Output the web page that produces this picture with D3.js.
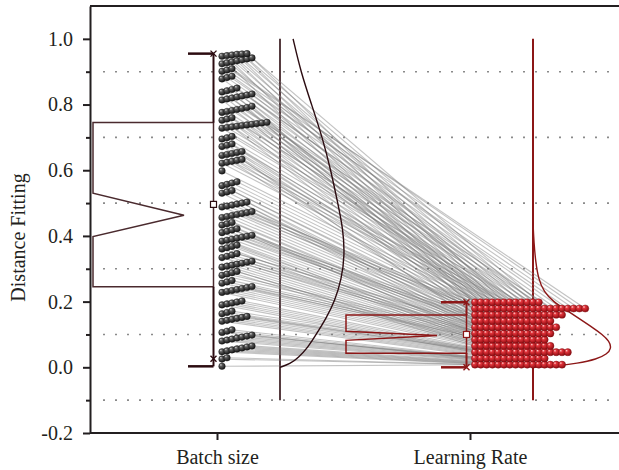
<!DOCTYPE html>
<html>
<head>
<meta charset="utf-8">
<script src="https://cdn.jsdelivr.net/npm/d3@7"></script>
<style>
  body { margin: 0; background: #fff; }
  text { font-family: "Liberation Serif", "Times New Roman", serif; fill: #231f20; }
</style>
</head>
<body>
<div id="vis"></div>
<script>
// Categories on the x axis
const categories = ['Batch size', 'Learning Rate']

// Distance fitting values, batch size
const batchValues = [
  0.003,
  0.025, 0.029,
  0.047, 0.050, 0.053, 0.056, 0.059, 0.062, 0.065,
  0.080, 0.083, 0.086, 0.089, 0.092, 0.095, 0.098,
  0.106, 0.110, 0.114,
  0.140, 0.143, 0.146, 0.149, 0.152, 0.155,
  0.163, 0.167, 0.171,
  0.190, 0.193, 0.196, 0.199, 0.202,
  0.228, 0.231, 0.234, 0.237, 0.240, 0.243, 0.246,
  0.256, 0.260, 0.264,
  0.280, 0.284, 0.288, 0.292,
  0.305, 0.308, 0.311, 0.314, 0.317, 0.320, 0.323,
  0.334, 0.338, 0.342, 0.346,
  0.360, 0.364, 0.368, 0.372,
  0.384, 0.387, 0.390, 0.393, 0.396, 0.399, 0.402,
  0.410, 0.414, 0.418, 0.422,
  0.433, 0.437, 0.441,
  0.456, 0.459, 0.462, 0.465, 0.468, 0.471, 0.474,
  0.488, 0.491, 0.494, 0.497, 0.500, 0.503,
  0.530, 0.534, 0.538,
  0.553, 0.557, 0.561, 0.565,
  0.598,
  0.621, 0.624, 0.627, 0.630, 0.633,
  0.645, 0.648, 0.651, 0.654, 0.657,
  0.672, 0.676, 0.680,
  0.695, 0.699, 0.703,
  0.728, 0.730, 0.732, 0.734, 0.736, 0.738, 0.740, 0.742, 0.744, 0.746,
  0.752, 0.756, 0.760,
  0.776, 0.779, 0.782, 0.785, 0.788, 0.791, 0.795,
  0.814, 0.817, 0.820, 0.823, 0.826, 0.829, 0.832,
  0.838, 0.842, 0.846, 0.850,
  0.878, 0.882, 0.886,
  0.901, 0.905, 0.909,
  0.924, 0.927, 0.930, 0.933, 0.936, 0.939, 0.942,
  0.947, 0.949, 0.951, 0.953, 0.954, 0.955
]

// Distance fitting values, learning rate (rows of dots)
const lrValues = [
  0.008, 0.008, 0.008, 0.008, 0.008, 0.008, 0.008, 0.008, 0.008, 0.008, 0.008, 0.008, 0.008, 0.008, 0.008, 0.008,
  0.027, 0.027, 0.027, 0.027, 0.027, 0.027, 0.027, 0.027, 0.027, 0.027, 0.027, 0.027, 0.027,
  0.046, 0.046, 0.046, 0.046, 0.046, 0.046, 0.046, 0.046, 0.046, 0.046, 0.046, 0.046, 0.046, 0.046, 0.046, 0.046, 0.046,
  0.065, 0.065, 0.065, 0.065, 0.065, 0.065, 0.065, 0.065, 0.065, 0.065, 0.065, 0.065, 0.065, 0.065,
  0.084, 0.084, 0.084, 0.084, 0.084, 0.084, 0.084, 0.084, 0.084, 0.084, 0.084, 0.084, 0.084,
  0.103, 0.103, 0.103, 0.103, 0.103, 0.103, 0.103, 0.103, 0.103, 0.103, 0.103, 0.103, 0.103, 0.103,
  0.122, 0.122, 0.122, 0.122, 0.122, 0.122, 0.122, 0.122, 0.122, 0.122, 0.122, 0.122, 0.122, 0.122, 0.122,
  0.141, 0.141, 0.141, 0.141, 0.141, 0.141, 0.141, 0.141, 0.141, 0.141, 0.141, 0.141, 0.141, 0.141,
  0.160, 0.160, 0.160, 0.160, 0.160, 0.160, 0.160, 0.160, 0.160, 0.160, 0.160, 0.160, 0.160, 0.160, 0.160, 0.160,
  0.179, 0.179, 0.179, 0.179, 0.179, 0.179, 0.179, 0.179, 0.179, 0.179, 0.179, 0.179, 0.179, 0.179, 0.179, 0.179, 0.179, 0.179, 0.179, 0.179,
  0.198, 0.198, 0.198, 0.198, 0.198, 0.198, 0.198, 0.198, 0.198, 0.198, 0.198, 0.198
]

// Box statistics: min, p1, q1, notch low, median, notch high, q3, mean, p99, max
const batchStats = [0.003, 0.026, 0.245, 0.398, 0.463, 0.530, 0.745, 0.496, 0.955, 0.955]
const lrStats = [0.000, 0.000, 0.043, 0.082, 0.097, 0.110, 0.159, 0.100, 0.198, 0.198]

// Distribution curves (value, relative density)
const batchCurveV = [0, 0.01, 0.03, 0.06, 0.1, 0.15, 0.2, 0.27, 0.34, 0.42, 0.5, 0.6, 0.7, 0.8, 0.9, 1.0]
const batchCurveD = [0, 0.13, 0.24, 0.36, 0.47, 0.60, 0.71, 0.80, 0.84, 0.82, 0.75, 0.66, 0.55, 0.41, 0.27, 0.17]
const lrCurveV = [0, 0.004, 0.012, 0.025, 0.04, 0.058, 0.08, 0.1, 0.12, 0.145, 0.17, 0.2, 0.23, 0.27, 0.32, 0.38, 0.44]
const lrCurveD = [0, 0.28, 0.58, 0.83, 0.96, 1.02, 0.99, 0.9, 0.78, 0.62, 0.46, 0.26, 0.14, 0.07, 0.035, 0.012, 0]

// Axis ticks
const yTicks = [-0.2, 0, 0.2, 0.4, 0.6, 0.8, 1.0]
const yMinorTicks = [-0.1, 0.1, 0.3, 0.5, 0.7, 0.9]

class PairedPlot {
  constructor() {
    this.width = 619
    this.height = 470
    this.plot = { left: 90, right: 619, top: 6, bottom: 433 }

    // offsets from the category position
    this.off = { box: -124, notch: -33, cap: -29, whisker: -3.5, dots: 5, spine: 63 }
    this.lineColors = ['#2b0b10', '#8c1717']
    this.boxColors = ['#4a2a2e', '#8c1717']

    this.initVis()
  }

  initVis() {
    let vis = this

    vis.svg = d3.select('#vis')
      .append('svg')
      .attr('width', vis.width)
      .attr('height', vis.height)

    vis.yScale = d3.scaleLinear()
      .domain([-0.2, 1.1])
      .range([vis.plot.bottom, vis.plot.top])

    vis.xScale = d3.scalePoint()
      .domain(categories)
      .range([vis.plot.left + 127, vis.plot.left + 380])

    // density -> pixel width of the curve
    vis.wScale = d3.scaleLinear().domain([0, 1]).range([0, 77])

    // shaded balls
    let defs = vis.svg.append('defs')
    let ball = (id, stops) => {
      let g = defs.append('radialGradient').attr('id', id)
        .attr('cx', '38%').attr('cy', '35%').attr('r', '65%').attr('fx', '32%').attr('fy', '28%')
      stops.forEach(s => g.append('stop').attr('offset', s[0]).attr('stop-color', s[1]))
    }
    ball('grayBall', [[0, '#d8d8d8'], [0.3, '#5e5e5e'], [1, '#161616']])
    ball('redBall', [[0, '#ffd0d0'], [0.3, '#e2343b'], [1, '#8e0d12']])

    // dotted grid at minor ticks
    vis.svg.append('g').selectAll('line')
      .data(yMinorTicks)
      .enter()
      .append('line')
      .attr('x1', vis.plot.left + 13)
      .attr('x2', vis.plot.right)
      .attr('y1', d => vis.yScale(d))
      .attr('y2', d => vis.yScale(d))
      .attr('stroke', '#8a8a8a')
      .attr('stroke-width', 1.6)
      .attr('stroke-dasharray', '2,10')

    // Y axis
    let yAxis = vis.svg.append('g')
      .attr('transform', `translate(${vis.plot.left},0)`)
      .call(d3.axisLeft(vis.yScale).tickValues(yTicks).tickSize(7).tickSizeOuter(0)
        .tickPadding(10).tickFormat(d => d.toFixed(1)))
    yAxis.selectAll('text').style('font-size', '20px')

    let yMinor = vis.svg.append('g')
      .attr('transform', `translate(${vis.plot.left},0)`)
      .call(d3.axisLeft(vis.yScale).tickValues(yMinorTicks).tickSize(4).tickFormat(''))
    yMinor.select('.domain').remove()

    // X axis
    let xAxis = vis.svg.append('g')
      .attr('transform', `translate(0,${vis.plot.bottom})`)
      .call(d3.axisBottom(vis.xScale).tickSize(7).tickSizeOuter(0).tickPadding(10))
    xAxis.select('.domain').remove()
    xAxis.selectAll('text').style('font-size', '20px')

    vis.svg.append('line')
      .attr('class', 'x-domain')
      .attr('x1', vis.plot.left).attr('x2', vis.plot.right)
      .attr('y1', vis.plot.bottom).attr('y2', vis.plot.bottom)
    vis.svg.append('line')
      .attr('class', 'top-frame')
      .attr('x1', vis.plot.left).attr('x2', vis.plot.right)
      .attr('y1', vis.plot.top).attr('y2', vis.plot.top)

    vis.svg.selectAll('.domain, .tick line, .x-domain, .top-frame')
      .attr('stroke', '#231f20')
      .attr('stroke-width', 2)

    // Y label
    vis.svg.append('text')
      .attr('transform', `translate(25,${(vis.plot.top + vis.plot.bottom) / 2 + 18}) rotate(-90)`)
      .attr('text-anchor', 'middle')
      .style('font-size', '20px')
      .text('Distance Fitting')

    vis.renderVis()
  }

  // dots of a group stack to the right; a new group starts after binW
  swarm(values, x0, step, binW) {
    let sorted = values.slice().sort((a, b) => a - b)
    let pts = []
    let start = null
    let k = 0
    sorted.forEach(v => {
      if (start === null || v - start >= binW) { start = v; k = 0 }
      pts.push({ v: v, x: x0 + k * step })
      k++
    })
    return pts
  }

  renderVis() {
    let vis = this
    let y = vis.yScale

    let cx = categories.map(c => vis.xScale(c))
    let batchPts = vis.swarm(batchValues, cx[0] + vis.off.dots, 5, 0.0215)
    let lrPts = vis.swarm(lrValues, cx[1] + vis.off.dots, 5.8, 0.01)

    // spine lines
    vis.svg.append('g').selectAll('line')
      .data(cx)
      .enter()
      .append('line')
      .attr('x1', d => d + vis.off.spine)
      .attr('x2', d => d + vis.off.spine)
      .attr('y1', y(1.0))
      .attr('y2', y(-0.1))
      .attr('stroke', (d, i) => vis.lineColors[i])
      .attr('stroke-width', (d, i) => i ? 2 : 1.6)

    // paired lines
    vis.svg.append('g').selectAll('line')
      .data(batchPts)
      .enter()
      .append('line')
      .attr('x1', d => d.x)
      .attr('y1', d => y(d.v))
      .attr('x2', (d, i) => lrPts[i].x)
      .attr('y2', (d, i) => y(lrPts[i].v))
      .attr('stroke', '#7a7a7a')
      .attr('stroke-opacity', 0.45)
      .attr('stroke-width', 1.1)

    // distribution curves
    let curves = [
      batchCurveV.map((v, i) => [v, batchCurveD[i]]),
      lrCurveV.map((v, i) => [v, lrCurveD[i]])
    ]
    curves.forEach((pts, i) => {
      let line = d3.line()
        .x(p => cx[i] + vis.off.spine + vis.wScale(p[1]))
        .y(p => y(p[0]))
        .curve(d3.curveBasis)
      vis.svg.append('path')
        .attr('d', line(pts))
        .attr('fill', 'none')
        .attr('stroke', vis.lineColors[i])
        .attr('stroke-width', 1.4)
    })

    // notched half boxes, whiskers, markers
    let stats = [batchStats, lrStats]
    stats.forEach((s, i) => {
      let [min, p1, q1, nLow, med, nHigh, q3, mean, p99, max] = s
      let xr = cx[i] + vis.off.whisker
      let xl = cx[i] + vis.off.box
      let xn = cx[i] + vis.off.notch
      let g = vis.svg.append('g').attr('class', 'box')
      let c = vis.lineColors[i]

      let path = d3.path()
      path.moveTo(xr, y(q3))
      path.lineTo(xl, y(q3))
      path.lineTo(xl, y(nHigh))
      path.lineTo(xn, y(med))
      path.lineTo(xl, y(nLow))
      path.lineTo(xl, y(q1))
      path.lineTo(xr, y(q1))
      path.closePath()
      g.append('path')
        .attr('d', path.toString())
        .attr('fill', 'none')
        .attr('stroke', vis.boxColors[i])
        .attr('stroke-width', 1.5)

      // whiskers
      g.append('line').attr('x1', xr).attr('x2', xr).attr('y1', y(q3)).attr('y2', y(max))
        .attr('stroke', c).attr('stroke-width', 2)
      g.append('line').attr('x1', xr).attr('x2', xr).attr('y1', y(q1)).attr('y2', y(min))
        .attr('stroke', c).attr('stroke-width', 2)
      ;[min, max].forEach(v => {
        g.append('line')
          .attr('x1', cx[i] + vis.off.cap).attr('x2', xr)
          .attr('y1', y(v)).attr('y2', y(v))
          .attr('stroke', c).attr('stroke-width', 2.5)
      })

      // mean
      g.append('rect')
        .attr('x', xr - 3).attr('y', y(mean) - 3)
        .attr('width', 6).attr('height', 6)
        .attr('fill', '#fff')
        .attr('stroke', c).attr('stroke-width', 1.2)

      // 1% / 99% crosses
      ;[p1, p99].forEach(v => {
        let yy = y(v)
        g.append('path')
          .attr('d', `M${xr - 3},${yy - 3}L${xr + 3},${yy + 3}M${xr - 3},${yy + 3}L${xr + 3},${yy - 3}`)
          .attr('stroke', c).attr('stroke-width', 1.4)
      })
    })

    // dots
    vis.svg.append('g').selectAll('circle')
      .data(batchPts)
      .enter()
      .append('circle')
      .attr('cx', d => d.x)
      .attr('cy', d => y(d.v))
      .attr('r', 3.3)
      .attr('fill', 'url(#grayBall)')
      .attr('stroke', '#151515')
      .attr('stroke-width', 0.4)

    vis.svg.append('g').selectAll('circle')
      .data(lrPts)
      .enter()
      .append('circle')
      .attr('cx', d => d.x)
      .attr('cy', d => y(d.v))
      .attr('r', 3.6)
      .attr('fill', 'url(#redBall)')
      .attr('stroke', '#7a0a0e')
      .attr('stroke-width', 0.4)
  }
}

new PairedPlot()
</script>
</body>
</html>
